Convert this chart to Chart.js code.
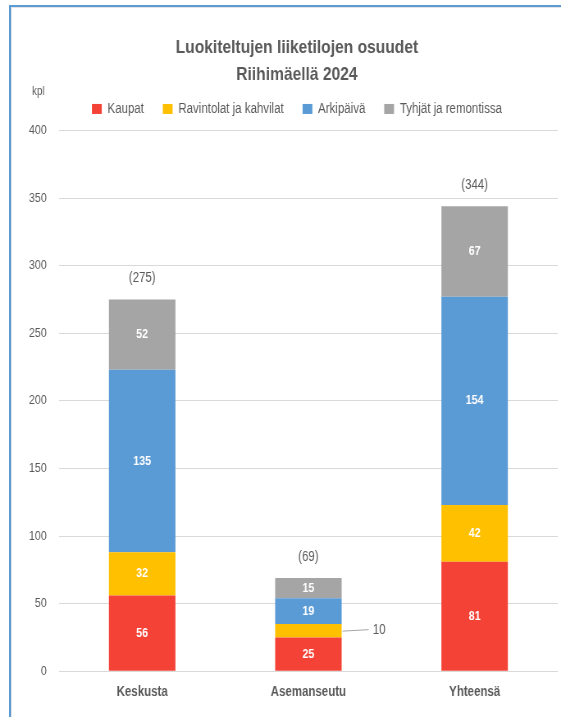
<!DOCTYPE html>
<html lang="fi">
<head>
<meta charset="utf-8">
<title>Luokiteltujen liiketilojen osuudet</title>
<script src="https://cdn.jsdelivr.net/npm/chart.js@4.4.1/dist/chart.umd.min.js"></script>
<style>
  html, body { margin: 0; padding: 0; background: #fff; overflow: hidden; }
  #marco {
    position: absolute; left: 9px; top: 5px; width: 700px; height: 800px;
    border-left: 2px solid #5b9bd5; border-top: 2px solid #5b9bd5;
  }
  #marco div {
    position: absolute; left: 0; top: 0; right: 0; bottom: 0;
    border-left: 1px solid #e4e4e4; border-top: 1px solid #e4e4e4;
  }
  /* la fuente original es estrecha: se dibuja a 684px y se comprime a 561px */
  #myChart {
    position: absolute; left: 0; top: 0; width: 684px; height: 717px;
    transform: scaleX(0.8202); transform-origin: 0 0;
  }
</style>
</head>
<body>
<div id="marco"><div></div></div>
<canvas id="myChart" width="684" height="717"></canvas>
<script>
const alueet = ["Keskusta", "Asemanseutu", "Yhteensä"];
const kaupat = [56, 25, 81];
const ravintolat = [32, 10, 42];
const arkipaiva = [135, 19, 154];
const tyhjat = [52, 15, 67];
const yTicks = [0, 50, 100, 150, 200, 250, 300, 350, 400];

const fuente = '"Liberation Sans", Arial, sans-serif';
const gris = "#595959";
const ctx = document.getElementById("myChart");

// etiquetas dentro de las barras, totales y la unidad
const etiquetas = {
  id: "etiquetas",
  afterLayout(chart) {
    // centrar título y leyenda como en el original
    [chart.titleBlock, chart.legend].forEach(b => { b.left += 7; b.right += 7; });
  },
  afterDatasetsDraw(chart) {
    const c = chart.ctx;
    c.save();
    chart.data.datasets.forEach((ds, i) => {
      const meta = chart.getDatasetMeta(i);
      meta.data.forEach((bar, j) => {
        const v = ds.data[j];
        const alto = Math.abs(bar.base - bar.y);
        const yMedio = (bar.y + bar.base) / 2;
        if (alto >= 16) {
          c.font = "bold 13px " + fuente;
          c.fillStyle = "#ffffff";
          c.textAlign = "center";
          c.textBaseline = "middle";
          c.fillText(v, bar.x, yMedio);
        } else {
          const xd = bar.x + bar.width / 2;
          c.strokeStyle = "#a6a6a6";
          c.lineWidth = 1;
          c.beginPath();
          c.moveTo(xd + 1, yMedio + 0.5);
          c.lineTo(xd + 33, yMedio - 1);
          c.stroke();
          c.font = "14px " + fuente;
          c.fillStyle = gris;
          c.textAlign = "left";
          c.textBaseline = "middle";
          c.fillText(v, xd + 38, yMedio - 1);
        }
      });
    });
    const ultimo = chart.getDatasetMeta(chart.data.datasets.length - 1);
    ultimo.data.forEach((bar, j) => {
      let total = 0;
      chart.data.datasets.forEach(ds => { total += ds.data[j]; });
      c.font = "14px " + fuente;
      c.fillStyle = gris;
      c.textAlign = "center";
      c.textBaseline = "middle";
      c.fillText("(" + total + ")", bar.x, bar.y - 21);
    });
    c.font = "12px " + fuente;
    c.fillStyle = gris;
    c.textAlign = "left";
    c.textBaseline = "middle";
    c.fillText("kpl", 39, 92);
    c.restore();
  }
};

new Chart(ctx, {
  type: "bar",
  data: {
    labels: alueet,
    datasets: [
      { label: "Kaupat", data: kaupat, backgroundColor: "#f44336" },
      { label: "Ravintolat ja kahvilat", data: ravintolat, backgroundColor: "#ffc000" },
      { label: "Arkipäivä", data: arkipaiva, backgroundColor: "#5b9bd5" },
      { label: "Tyhjät ja remontissa", data: tyhjat, backgroundColor: "#a5a5a5" },
    ],
  },
  options: {
    responsive: false,
    devicePixelRatio: 1,
    animation: false,
    layout: { padding: { left: 30, right: 4, top: 0, bottom: 3 } },
    datasets: { bar: { categoryPercentage: 1, barPercentage: 0.4 } },
    scales: {
      x: {
        stacked: true,
        grid: { display: false, drawTicks: false },
        border: { display: false },
        ticks: { color: gris, padding: 13, font: { family: fuente, size: 14, weight: "bold" } },
      },
      y: {
        stacked: true,
        min: 0,
        max: 403.3,
        afterFit: (scale) => { scale.width = 42; },
        afterBuildTicks: (scale) => { scale.ticks = yTicks.map(v => ({ value: v })); },
        grid: { color: "#d9d9d9", drawTicks: false },
        border: { display: false },
        ticks: { color: gris, padding: 15, font: { family: fuente, size: 13 } },
      },
    },
    plugins: {
      title: {
        display: true,
        text: ["Luokiteltujen liiketilojen osuudet", "Riihimäellä 2024"],
        color: gris,
        font: { family: fuente, size: 19, weight: "bold", lineHeight: 1.42 },
        padding: { top: 34, bottom: -9 },
      },
      legend: {
        labels: {
          boxWidth: 12,
          boxHeight: 10,
          padding: 23,
          color: gris,
          font: { family: fuente, size: 14 },
        },
      },
      tooltip: { enabled: false },
    },
  },
  plugins: [etiquetas],
});
</script>
</body>
</html>
